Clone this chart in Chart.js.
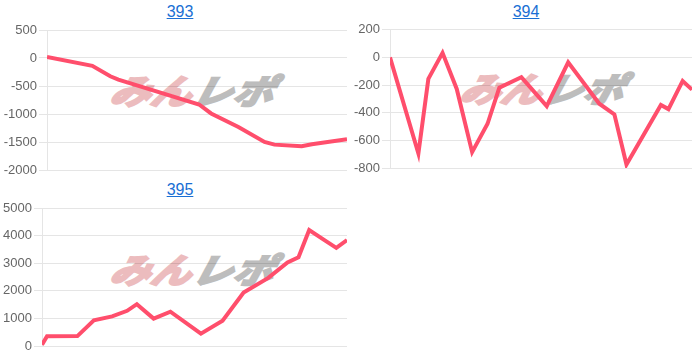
<!DOCTYPE html>
<html>
<head>
<meta charset="utf-8">
<script src="https://cdn.jsdelivr.net/npm/chart.js@4"></script>
<style>
  body { margin: 0; background: #fff; width: 700px; height: 356px; overflow: hidden; font-family: "Liberation Sans", Arial, sans-serif; }
  .ttl { position: absolute; width: 100px; text-align: center; font-size: 16px; color: #1a6fd4; text-decoration: underline; line-height: 20px; }
  .wm { position: absolute; font-family: "Noto Sans CJK JP", sans-serif; font-weight: 700; font-style: italic; font-size: 40px; line-height: 40px; letter-spacing: 1px; white-space: nowrap; transform: skewX(-14deg) scaleY(0.85); transform-origin: left top; }
  .wm .a { color: #ecbcbe; -webkit-text-stroke: 3px #ecbcbe; }
  .wm .b { color: #bdbdbd; -webkit-text-stroke: 3px #bdbdbd; }
  .box { position: absolute; }
</style>
</head>
<body>
<div class="ttl" style="left:130px;top:2px">393</div>
<div class="ttl" style="left:476px;top:2px">394</div>
<div class="ttl" style="left:130px;top:180px">395</div>

<div class="wm" style="left:116px;top:73px"><span class="a">みん</span><span class="b">レポ</span></div>
<div class="wm" style="left:466px;top:71px"><span class="a">みん</span><span class="b">レポ</span></div>
<div class="wm" style="left:116px;top:252px"><span class="a">みん</span><span class="b">レポ</span></div>

<div class="box" style="left:0px;top:20px;width:352px;height:160px"><canvas id="c393"></canvas></div>
<div class="box" style="left:350px;top:20px;width:350px;height:160px"><canvas id="c394"></canvas></div>
<div class="box" style="left:0px;top:198px;width:352px;height:158px"><canvas id="c395"></canvas></div>

<script>
// x = progress through the period (0-100), y = cumulative diff
const x393 = [0, 15.1, 21.1, 23.8, 50.7, 54.7, 63.8, 72.5, 75.8, 84.9, 88.3, 100]
const y393 = [20, -140, -327, -386, -830, -990, -1232, -1500, -1547, -1577, -1541, -1450]

const x394 = [0, 9.4, 12.7, 17.4, 22.1, 27.2, 32.3, 36.2, 43.5, 51.9, 59, 69.3, 74.3, 78.3, 89.7, 92.2, 96.9, 100]
const y394 = [0, -695, -155, 33, -228, -685, -480, -218, -143, -352, -35, -335, -412, -775, -344, -374, -170, -233]

const x395 = [0, 1.65, 11.6, 17, 23, 27.9, 31.1, 36.6, 42.1, 52.1, 59.2, 66.1, 74.2, 80.5, 84.1, 87.6, 92.6, 96.5, 100]
const y395 = [50, 360, 365, 940, 1080, 1280, 1520, 1000, 1250, 455, 920, 1940, 2470, 3030, 3220, 4205, 3840, 3560, 3840]

const ticks393 = { min: -2000, max: 500, step: 500 }
const ticks394 = { min: -800, max: 200, step: 200 }
const ticks395 = { min: 0, max: 5000, step: 1000 }

const lineColor = 'rgb(255, 78, 108)'

const makeChart = (id, xs, ys, t, axisWidth, pad) => {
  const pts = xs.map((v, i) => ({ x: v, y: ys[i] }))
  return new Chart(document.getElementById(id), {
    type: 'line',
    data: {
      datasets: [{
        data: pts,
        borderColor: lineColor,
        borderWidth: 4,
        pointRadius: 0,
        fill: false,
        tension: 0
      }]
    },
    options: {
      responsive: true,
      maintainAspectRatio: false,
      animation: false,
      layout: { padding: pad },
      plugins: { legend: { display: false }, tooltip: { enabled: false } },
      scales: {
        x: { type: 'linear', min: 0, max: 100, display: false },
        y: {
          min: t.min,
          max: t.max,
          afterFit: (s) => { s.width = axisWidth },
          ticks: {
            stepSize: t.step,
            color: '#666',
            font: { size: 13, family: '"Liberation Sans", Arial, sans-serif' },
            padding: 2,
            callback: (v) => String(v)
          },
          grid: { color: 'rgba(0,0,0,0.1)', tickLength: 8 },
          border: { color: 'rgba(0,0,0,0.1)' }
        }
      }
    }
  })
}

makeChart('c393', x393, y393, ticks393, 47, { top: 10, bottom: 10, right: 5 })
makeChart('c394', x394, y394, ticks394, 40, { top: 9, bottom: 12, right: 8 })
makeChart('c395', x395, y395, ticks395, 42, { top: 10, bottom: 4, right: 5 })
</script>
</body>
</html>
